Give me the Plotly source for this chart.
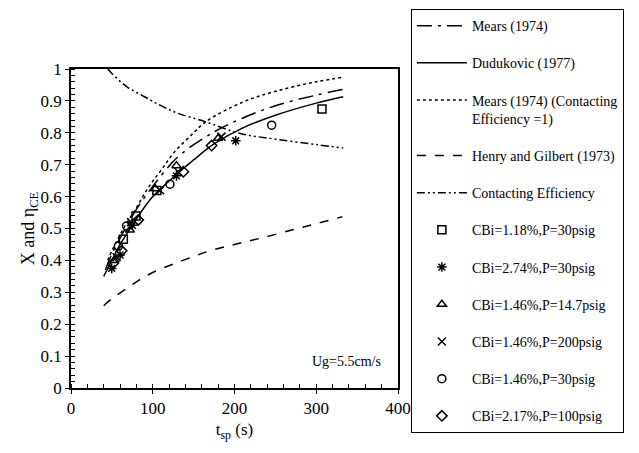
import plotly.graph_objects as go

# ---- curve data ----
mears_x = [42, 50, 60, 80, 100, 131, 176, 209, 250, 300, 333]
mears_y = [0.37, 0.42, 0.47, 0.56, 0.632, 0.725, 0.804, 0.845, 0.885, 0.918, 0.936]

dud_x = [40, 50, 60, 70, 80, 100, 125, 150, 175, 209, 250, 300, 333]
dud_y = [0.35, 0.40, 0.45, 0.49, 0.53, 0.60, 0.66, 0.715, 0.765, 0.814, 0.855, 0.893, 0.913]

mce1_x = [45, 50, 60, 70, 80, 90, 100, 111, 125, 150, 165, 209, 250, 300, 333]
mce1_y = [0.40, 0.43, 0.48, 0.525, 0.565, 0.61, 0.648, 0.685, 0.735, 0.80, 0.835, 0.895, 0.93, 0.96, 0.974]

henry_x = [40, 50, 68, 80, 100, 137, 170, 200, 231, 270, 300, 332]
henry_y = [0.258, 0.28, 0.312, 0.333, 0.362, 0.40, 0.43, 0.45, 0.469, 0.495, 0.515, 0.537]

ce_x = [45, 50, 68, 90, 110, 131, 164, 207, 250, 300, 333]
ce_y = [1.0, 0.986, 0.945, 0.913, 0.885, 0.861, 0.835, 0.798, 0.78, 0.763, 0.752]

# ---- experimental points ----
sq_x = [64, 79.5, 105, 307]
sq_y = [0.466, 0.539, 0.619, 0.875]

ast_x = [49.8, 60, 75, 129, 201.5]
ast_y = [0.375, 0.417, 0.51, 0.665, 0.775]

tri_x = [53, 72, 103, 129, 180]
tri_y = [0.40, 0.495, 0.625, 0.697, 0.783]

xx_x = [55.7, 73.5, 109, 131, 184]
xx_y = [0.41, 0.52, 0.62, 0.678, 0.788]

cir_x = [58, 68, 121, 245.5]
cir_y = [0.445, 0.508, 0.639, 0.824]

dia_x = [51.7, 62, 82.3, 137.4, 172]
dia_y = [0.391, 0.43, 0.527, 0.678, 0.76]

X_RANGE = [0, 400]
Y_RANGE = [0, 1]

FONT = "Liberation Serif, Times New Roman, DejaVu Serif, serif"
fig = go.Figure()

lines = [
    ("Mears (1974)", mears_x, mears_y, "longdashdot"),
    ("Dudukovic (1977)", dud_x, dud_y, "solid"),
    ("Mears (1974) (Contacting<br>Efficiency =1)", mce1_x, mce1_y, "dot"),
    ("Henry and Gilbert (1973)", henry_x, henry_y, "dash"),
    ("Contacting Efficiency", ce_x, ce_y, "8px,3px,2px,3px,2px,3px"),
]
for i, (name, x, y, dash) in enumerate(lines):
    fig.add_trace(go.Scatter(x=x, y=y, mode="lines", name=name, legendgroup=f"g{i}",
                             line=dict(color="black", width=1.5, dash=dash, shape="spline")))

pts = [
    ("CBi=1.18%,P=30psig", sq_x, sq_y, "square-open"),
    ("CBi=2.74%,P=30psig", ast_x, ast_y, "asterisk-open"),
    ("CBi=1.46%,P=14.7psig", tri_x, tri_y, "triangle-up-open"),
    ("CBi=1.46%,P=200psig", xx_x, xx_y, "x-thin-open"),
    ("CBi=1.46%,P=30psig", cir_x, cir_y, "circle-open"),
    ("CBi=2.17%,P=100psig", dia_x, dia_y, "diamond-open"),
]
for i, (name, x, y, sym) in enumerate(pts):
    fig.add_trace(go.Scatter(x=x, y=y, mode="markers", name=name, legendgroup=f"p{i}",
                             marker=dict(symbol=sym, size=8, color="black",
                                         line=dict(color="black", width=1.5))))

fig.add_annotation(x=382, y=0.082, xref="x", yref="y", text="Ug=5.5cm/s", showarrow=False,
                   xanchor="right", font=dict(family=FONT, size=14, color="black"))

axis_common = dict(showgrid=False, zeroline=False, showline=True, linecolor="black",
                   linewidth=1.5, mirror=True, ticks="outside", ticklen=4, tickcolor="black",
                   tickwidth=1.2, automargin=False,
                   tickfont=dict(family=FONT, size=17, color="black"))
fig.update_xaxes(range=X_RANGE, dtick=100, tick0=0,
                 minor=dict(dtick=20, ticks="inside", ticklen=4, tickcolor="black"),
                 title=dict(text="t<sub>sp</sub> (s)", font=dict(family=FONT, size=17, color="black"), standoff=6),
                 **axis_common)
fig.update_yaxes(range=Y_RANGE, dtick=0.1, tick0=0,
                 minor=dict(dtick=0.02, ticks="inside", ticklen=4, tickcolor="black"),
                 title=dict(text="X and η<sub>CE</sub>", font=dict(family=FONT, size=18, color="black"), standoff=1),
                 **axis_common)

# overlay axes to draw the inner half of the major ticks (crossing ticks)
fig.update_layout(
    xaxis2=dict(overlaying="x", matches="x", range=X_RANGE, dtick=100, tick0=0, ticks="inside",
                ticklen=5, tickcolor="black", tickwidth=1.2, showticklabels=False, automargin=False,
                showgrid=False, zeroline=False, showline=False, side="bottom", anchor="y"),
    yaxis2=dict(overlaying="y", range=Y_RANGE, dtick=0.1, tick0=0, ticks="inside",
                ticklen=5, tickcolor="black", tickwidth=1.2, showticklabels=False, automargin=False,
                showgrid=False, zeroline=False, showline=False, side="left", anchor="x"),
)

fig.update_layout(
    width=639, height=453,
    margin=dict(l=71, r=241, t=69, b=65),
    paper_bgcolor="white", plot_bgcolor="white",
    font=dict(family=FONT, color="black"),
    showlegend=True,
    legend=dict(xref="container", yref="container", x=0.643, y=0.98,
                xanchor="left", yanchor="top",
                bordercolor="black", borderwidth=1, bgcolor="white",
                font=dict(family=FONT, size=14, color="black"),
                traceorder="grouped", tracegroupgap=16, valign="top",
                itemwidth=50, maxheight=1000),
)

fig.write_html("out.html")
